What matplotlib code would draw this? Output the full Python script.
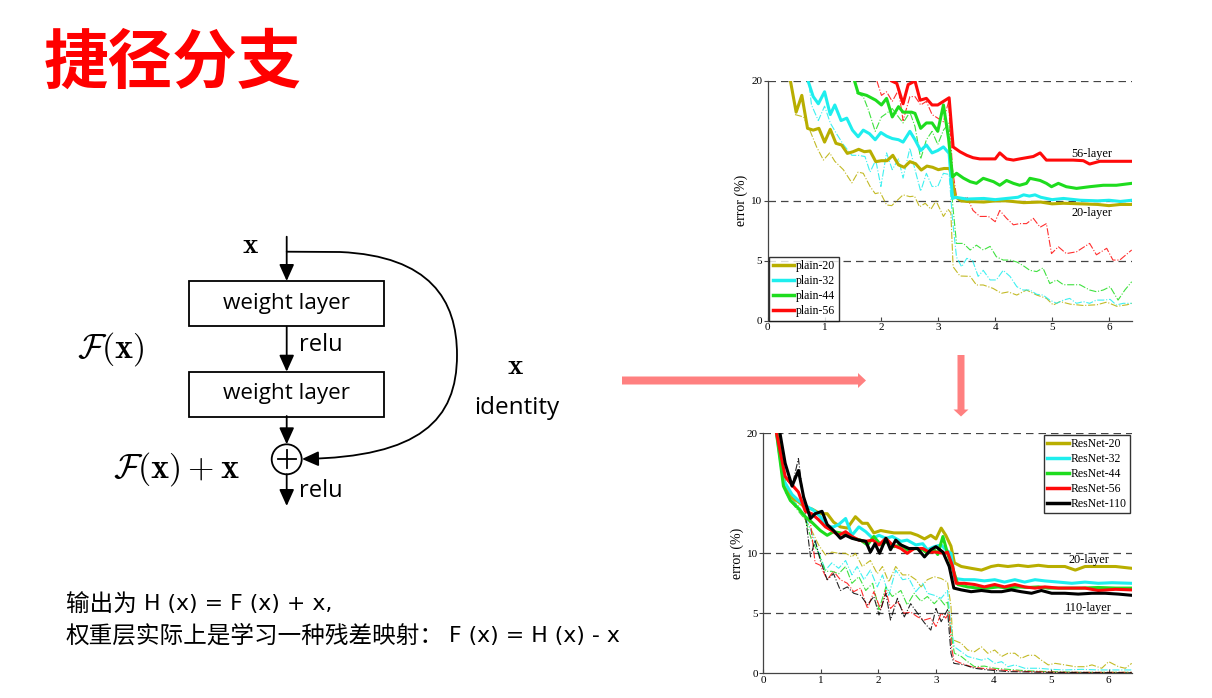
import matplotlib
matplotlib.use("Agg")
import matplotlib.pyplot as plt
from matplotlib.patches import Rectangle, Circle, FancyArrow, FancyArrowPatch
from matplotlib.path import Path
from matplotlib.lines import Line2D

plt.rcParams['mathtext.fontset'] = 'cm'

# ---------------- data: plain nets (top chart) ----------------
p20_x = [0.4,0.5,0.6,0.7,0.8,0.9,1.0,1.1,1.2,1.3,1.4,1.5,1.6,1.7,1.8,1.9,2.0,2.1,2.2,2.3,
         2.4,2.5,2.6,2.7,2.8,2.9,3.0,3.1,3.2,3.3,3.4,3.5,3.8,4.0,4.2,4.5,4.8,5.0,5.2,5.5,5.8,6.0,6.2,6.4]
p20_y = [20,17.4,18.8,16.05,15.9,16.05,14.9,15.97,14.8,14.66,13.96,14.1,14.3,14.1,14.16,13.27,13.35,13.35,13.8,13.0,
         12.8,13.27,13.1,12.57,12.9,12.8,12.6,12.7,12.7,10.35,10.0,9.95,9.9,10.0,10.0,9.85,9.9,9.75,9.8,9.75,9.7,9.6,9.7,9.7]
p20t_x = [0.48,0.63,0.74,0.86,0.98,1.09,1.18,1.33,1.48,1.59,1.68,1.8,1.89,1.98,2.09,2.18,2.38,2.5,2.58,2.67,
          2.77,2.87,2.96,3.09,3.17,3.22,3.26,3.38,3.56,3.67,3.79,3.96,4.11,4.23,4.38,4.55,4.73,4.9,5.02,5.14,
          5.32,5.55,5.79,5.96,6.14,6.32,6.4]
p20t_y = [17.2,17.0,15.9,14.5,13.4,14.0,13.3,12.6,11.5,12.4,12.3,11.2,10.6,10.7,9.66,9.6,10.5,10.35,10.4,9.5,
          9.8,9.3,10.0,8.7,9.3,9.0,4.5,3.73,3.7,2.98,2.98,2.7,2.29,2.4,2.14,2.56,2.14,1.87,1.31,1.6,
          1.38,1.27,1.33,1.55,1.2,1.33,1.45]

p32_x = [0.71,0.8,0.89,1.0,1.1,1.18,1.29,1.39,1.49,1.59,1.68,1.79,1.89,1.99,2.09,2.19,2.3,2.38,2.5,2.59,
         2.69,2.79,2.89,2.99,3.09,3.19,3.25,3.3,3.5,3.8,4.0,4.2,4.4,4.5,4.6,4.7,4.8,5.0,5.2,5.5,5.8,6.0,6.2,6.4]
p32_y = [20,18.7,18.1,19.1,17.2,18.0,16.7,16.9,15.9,15.35,15.9,15.6,15.1,15.7,15.4,15.2,15.1,14.9,15.8,15.1,
         14.2,14.66,14.0,14.2,14.5,13.96,10.2,10.3,10.15,10.2,10.1,10.2,10.3,10.5,10.4,10.5,10.3,10.1,10.2,10.05,10.0,10.05,9.95,10.05]
p32t_x = [0.73,0.77,0.89,1.0,1.1,1.21,1.33,1.48,1.59,1.71,1.8,1.9,1.99,2.09,2.19,2.3,2.38,2.5,2.59,2.69,2.79,
          2.89,2.99,3.09,3.19,3.25,3.32,3.41,3.5,3.6,3.7,3.79,3.91,4.02,4.14,4.26,4.38,4.49,4.61,4.73,4.84,
          4.96,5.08,5.2,5.31,5.43,5.55,5.66,5.78,5.9,6.02,6.13,6.25,6.4]
p32t_y = [19.6,18.0,16.7,17.9,16.5,15.6,14.7,13.8,13.8,13.7,12.4,13.4,11.2,14.0,12.6,13.5,11.9,14.4,12.6,10.8,12.3,
          11.2,11.2,12.3,12.2,8.4,5.3,4.5,5.2,5.06,3.7,4.2,3.4,3.4,4.2,3.7,2.84,2.56,2.56,2.2,2.14,
          1.72,1.45,1.72,1.86,1.45,1.59,1.45,1.72,1.72,1.78,1.31,1.45,1.45]

p44_x = [1.53,1.59,1.74,1.9,2.0,2.09,2.19,2.3,2.38,2.53,2.59,2.69,2.79,2.89,2.99,3.09,3.18,3.25,3.32,3.44,
         3.56,3.67,3.79,3.97,4.08,4.2,4.32,4.43,4.55,4.61,4.79,4.9,4.99,5.11,5.25,5.43,5.66,5.9,6.13,6.4]
p44_y = [19.95,19.0,18.8,18.4,18.0,18.55,17.0,17.86,17.4,17.4,17.3,16.05,16.5,16.5,15.8,18.0,15.2,12.0,12.3,11.9,
         11.6,11.46,11.88,11.6,11.3,11.7,11.46,11.3,11.46,11.88,11.7,11.46,11.18,11.46,11.18,11.04,11.18,11.3,11.3,11.46]
p44t_x = [1.56,1.68,1.77,1.89,2.0,2.09,2.19,2.3,2.38,2.5,2.59,2.69,2.79,2.89,2.99,3.09,3.19,3.25,3.32,3.44,
          3.56,3.67,3.79,3.91,4.02,4.14,4.26,4.38,4.49,4.61,4.73,4.84,4.96,5.08,5.2,5.31,5.49,5.66,5.78,5.9,
          6.02,6.16,6.28,6.4]
p44t_y = [19.0,18.7,17.6,15.8,17.0,17.3,17.7,17.0,16.5,17.4,16.2,13.5,15.1,15.8,14.7,15.9,16.5,9.8,6.45,6.45,
          5.9,6.3,5.9,6.2,5.34,5.06,5.06,4.9,4.6,4.2,4.1,4.4,3.1,3.4,3.0,3.0,3.0,2.56,2.42,2.56,
          2.84,1.72,2.56,3.25]

p56_x = [2.18,2.27,2.38,2.47,2.59,2.68,2.79,2.89,2.99,3.09,3.19,3.26,3.38,3.5,3.61,3.73,3.88,4.0,4.08,4.2,
         4.32,4.43,4.55,4.67,4.79,4.9,5.02,5.2,5.37,5.55,5.66,5.84,6.07,6.4]
p56_y = [20,19.8,18.1,19.7,20,18.4,18.55,18.0,18.0,18.3,18.6,14.5,14.1,13.8,13.6,13.5,13.5,13.5,14.0,13.5,
         13.4,13.5,13.6,13.7,14.0,13.4,13.4,13.4,13.4,13.35,13.07,13.3,13.3,13.3]
p56t_x = [1.92,2.0,2.09,2.19,2.3,2.38,2.5,2.59,2.69,2.79,2.89,2.99,3.09,3.18,3.25,3.32,3.41,3.5,3.61,3.73,
          3.88,4.0,4.08,4.2,4.32,4.43,4.55,4.67,4.79,4.9,4.99,5.11,5.25,5.43,5.66,5.78,5.96,6.07,6.19,6.4]
p56t_y = [20,18.8,19.1,18.3,19.25,16.7,18.7,18.7,18.0,18.3,17.2,16.9,16.6,18.3,12.6,10.35,9.93,10.35,9.2,8.7,
          8.7,8.26,9.2,8.54,8.0,8.1,8.1,8.54,7.8,8.1,5.6,6.17,5.6,5.75,6.45,5.5,6.04,5.06,5.06,5.9]

# ---------------- data: ResNets (bottom chart) ----------------
r20_x = [0.26,0.38,0.5,0.61,0.73,0.84,0.99,1.11,1.22,1.34,1.46,1.6,1.72,1.81,1.92,2.04,2.15,2.27,2.39,2.56,
         2.68,2.8,2.91,3.0,3.09,3.17,3.26,3.32,3.44,3.61,3.79,3.96,4.08,4.25,4.43,4.6,4.78,4.95,5.24,5.42,
         5.59,5.82,6.12,6.4]
r20_y = [20,15.6,14.6,14.3,13.8,13.7,13.3,13.3,12.6,12.2,12.1,13.05,12.5,12.5,11.7,11.9,11.8,11.7,11.7,11.7,
         11.5,11.2,11.5,11.2,12.1,11.5,10.6,9.2,8.9,8.75,8.6,8.9,9.0,8.9,9.0,8.9,9.0,8.9,8.9,8.6,
         8.9,8.9,8.9,8.75]
r20t_x = [0.38,0.5,0.61,0.73,0.84,0.96,1.08,1.19,1.31,1.43,1.54,1.6,1.72,1.86,1.98,2.07,2.18,2.3,2.42,2.53,
          2.65,2.74,2.85,2.97,3.09,3.2,3.26,3.29,3.44,3.55,3.67,3.79,3.9,4.02,4.14,4.25,4.37,4.48,4.6,4.72,
          4.83,4.95,5.07,5.24,5.42,5.59,5.71,5.88,6.0,6.17,6.29,6.4]
r20t_y = [15.3,14.6,13.75,12.8,11.9,10.7,9.86,10.1,10.0,10.0,9.7,10.0,8.9,9.4,8.3,8.9,7.6,8.9,8.2,8.2,
          7.8,7.2,7.8,8.05,7.9,7.6,5.6,2.8,2.5,1.94,1.8,2.2,1.67,1.94,1.4,1.67,1.67,1.25,1.5,1.5,
          1.1,0.7,0.83,0.7,0.55,0.55,0.7,0.42,0.97,0.55,0.42,0.83]

r32_x = [0.23,0.35,0.5,0.61,0.76,0.87,0.99,1.11,1.22,1.31,1.43,1.54,1.66,1.78,1.9,2.01,2.13,2.24,2.39,2.5,
         2.65,2.77,2.85,2.97,3.09,3.17,3.26,3.32,3.49,3.67,3.84,4.02,4.19,4.37,4.54,4.72,4.89,5.13,5.36,5.59,
         5.82,6.06,6.4]
r32_y = [20,16.1,14.9,14.4,13.9,13.6,13.05,12.2,12.2,12.4,12.9,11.5,12.2,11.8,11.25,11.5,11.25,11.4,11.0,11.1,
         10.7,10.8,10.3,10.55,10.7,10.3,10.0,7.9,7.8,7.8,7.7,7.8,7.6,7.8,7.6,7.8,7.7,7.6,7.5,7.6,
         7.5,7.55,7.5]
r32t_x = [0.38,0.5,0.61,0.73,0.84,0.96,1.08,1.19,1.31,1.43,1.54,1.63,1.75,1.86,1.98,2.07,2.18,2.3,2.42,2.53,
          2.65,2.77,2.85,2.97,3.09,3.2,3.26,3.32,3.44,3.55,3.67,3.79,3.9,4.02,4.14,4.25,4.37,4.54,4.78,5.01,
          5.24,5.53,5.82,6.12,6.4]
r32t_y = [15.3,14.4,14.0,13.05,11.7,10.1,8.6,9.2,8.75,9.4,8.2,8.9,7.8,8.6,7.2,8.2,6.5,8.6,7.8,7.9,
          6.8,7.5,6.67,6.5,6.25,6.9,3.9,2.2,1.8,1.4,1.25,1.1,1.25,0.83,0.97,0.55,0.7,0.42,0.42,0.33,
          0.28,0.33,0.28,0.28,0.28]

r44_x = [0.23,0.35,0.47,0.61,0.73,0.84,0.99,1.11,1.22,1.34,1.46,1.57,1.69,1.81,1.92,2.04,2.15,2.27,2.39,2.5,
         2.65,2.77,2.85,2.97,3.03,3.12,3.2,3.29,3.38,3.55,3.73,3.9,4.08,4.25,4.43,4.6,4.78,4.95,5.24,5.53,
         5.82,6.12,6.4]
r44_y = [20,15.6,14.4,13.75,13.05,12.6,11.9,11.5,11.8,11.7,11.5,11.25,11.1,10.7,11.4,10.7,11.0,10.55,10.7,10.3,
         10.4,10.3,10.0,10.3,9.9,11.4,10.0,8.75,7.4,7.2,7.1,7.1,7.2,7.1,7.2,7.15,7.2,7.1,7.1,7.1,
         7.15,7.1,7.1]
r44t_x = [0.38,0.5,0.61,0.73,0.84,0.96,1.08,1.19,1.31,1.43,1.54,1.66,1.78,1.9,2.01,2.13,2.24,2.39,2.5,2.62,
          2.74,2.85,2.97,3.06,3.15,3.2,3.26,3.32,3.44,3.55,3.67,3.84,4.02,4.25,4.54,4.95,5.53,6.4]
r44t_y = [15.1,14.2,13.5,12.8,11.1,10.0,8.5,8.5,8.3,8.9,7.5,8.05,6.9,7.5,5.3,7.2,6.4,6.9,5.7,6.67,
          6.0,6.4,5.8,6.25,5.7,6.0,3.3,1.67,1.4,0.97,0.55,0.6,0.42,0.33,0.22,0.14,0.08,0.08]

r56_x = [0.23,0.38,0.5,0.61,0.73,0.84,0.96,1.08,1.19,1.31,1.43,1.54,1.66,1.78,1.9,2.01,2.13,2.24,2.39,2.5,
         2.62,2.77,2.88,3.0,3.15,3.2,3.29,3.35,3.49,3.67,3.84,4.02,4.19,4.37,4.54,4.72,4.89,5.13,5.36,5.59,
         5.82,6.12,6.4]
r56_y = [20,16.4,15.7,15.1,13.5,13.3,12.8,12.2,11.9,11.5,11.8,11.4,11.1,11.0,11.1,10.7,11.25,10.7,10.4,10.0,
         10.4,10.4,10.1,10.1,10.0,10.1,8.9,7.5,7.5,7.4,7.2,7.4,7.2,7.4,7.2,7.1,7.2,7.1,7.1,7.1,
         6.9,7.0,6.95]
r56t_x = [0.38,0.5,0.61,0.73,0.82,0.9,0.99,1.11,1.22,1.34,1.46,1.57,1.69,1.81,1.92,2.04,2.13,2.21,2.33,2.45,
          2.56,2.68,2.8,2.91,3.0,3.09,3.17,3.23,3.27,3.31,3.44,3.61,3.79,4.02,4.25,4.66,5.24,6.4]
r56t_y = [15.3,14.2,13.75,13.05,12.5,9.2,9.0,7.8,8.5,7.8,7.5,6.8,7.1,5.4,6.8,5.3,6.9,5.4,6.0,5.0,
          5.1,4.7,4.44,4.6,3.9,5.0,4.6,5.1,2.2,1.1,0.83,0.55,0.42,0.33,0.22,0.14,0.08,0.08]

r110_x = [0.29,0.38,0.5,0.61,0.7,0.82,0.9,1.02,1.11,1.22,1.34,1.43,1.54,1.66,1.78,1.86,1.94,2.02,2.13,2.21,
          2.3,2.39,2.53,2.68,2.8,2.91,3.0,3.12,3.23,3.31,3.44,3.61,3.79,3.96,4.14,4.31,4.48,4.66,4.83,5.01,
          5.24,5.47,5.71,5.94,6.17,6.4]
r110_y = [20,17.5,15.6,16.9,14.7,12.9,13.3,13.5,12.4,11.9,11.25,11.5,11.25,11.1,11.0,10.1,10.8,10.0,11.25,10.3,
          11.1,10.7,10.4,10.4,9.7,10.3,10.55,10.1,8.9,7.1,6.95,6.8,6.9,6.8,6.8,6.95,6.8,6.67,6.9,6.67,
          6.67,6.6,6.67,6.67,6.6,6.5]
r110t_x = [0.41,0.5,0.61,0.7,0.82,0.9,0.99,1.11,1.22,1.34,1.46,1.57,1.69,1.81,1.92,2.01,2.13,2.21,2.33,2.45,
           2.56,2.68,2.8,2.91,3.0,3.09,3.2,3.26,3.31,3.49,3.67,3.9,4.25,4.95,6.4]
r110t_y = [16.1,15.6,17.9,14.4,9.7,11.1,9.4,7.8,8.3,6.9,7.2,6.67,6.5,5.7,6.4,4.86,6.67,4.44,6.25,4.7,
           5.8,5.0,4.2,3.6,5.4,4.3,5.3,1.67,0.83,0.7,0.42,0.28,0.14,0.08,0.05]

c_olive, c_cyan, c_green, c_red, c_black = '#B8AE00', '#1EEEEE', '#1EDC1E', '#FF0A0A', '#000000'

plain_series = [("plain-20", c_olive, p20_x, p20_y, p20t_x, p20t_y),
                ("plain-32", c_cyan, p32_x, p32_y, p32t_x, p32t_y),
                ("plain-44", c_green, p44_x, p44_y, p44t_x, p44t_y),
                ("plain-56", c_red, p56_x, p56_y, p56t_x, p56t_y)]
res_series = [("ResNet-20", c_olive, r20_x, r20_y, r20t_x, r20t_y),
              ("ResNet-32", c_cyan, r32_x, r32_y, r32t_x, r32t_y),
              ("ResNet-44", c_green, r44_x, r44_y, r44t_x, r44t_y),
              ("ResNet-56", c_red, r56_x, r56_y, r56t_x, r56t_y),
              ("ResNet-110", c_black, r110_x, r110_y, r110t_x, r110t_y)]

y_ticks = [0, 5, 10, 20]
x_ticks = [0, 1, 2, 3, 4, 5, 6]
grid_levels = [5, 10, 20]

fig = plt.figure(figsize=(12.12, 6.98), dpi=100)

# ---------------- overlay in pixel coordinates ----------------
ov = fig.add_axes([0, 0, 1, 1])
ov.set_xlim(0, 1212)
ov.set_ylim(698, 0)
ov.axis('off')

cjk = ['Noto Sans CJK SC', 'DejaVu Sans']
ov.text(44, 64, "捷径分支", fontsize=46.5, fontweight='bold', color='#FF0000',
        family=cjk, va='center', ha='left')

# explanation text: chinese part and formula part set separately
ov.text(66, 604, "输出为", fontsize=17, family=cjk, va='center', ha='left')
ov.text(144, 604, "H (x) = F (x) + x,", fontsize=15.8, family='DejaVu Sans', va='center', ha='left')
ov.text(66, 636, "权重层实际上是学习一种残差映射：", fontsize=17, family=cjk, va='center', ha='left')
ov.text(449, 636, "F (x) = H (x) - x", fontsize=15.8, family='DejaVu Sans', va='center', ha='left')

# residual block diagram
cx = 286.7
lab_font = 'Open Sans'
aprops = dict(arrowstyle='-|>,head_length=1.0,head_width=0.45', mutation_scale=10,
              color='black', lw=1.3, shrinkA=0, shrinkB=0)
for y0, y1 in [(236.7, 281), (326.7, 371.7), (416, 444.3), (474.3, 506)]:
    ov.annotate('', xy=(cx, y1), xytext=(cx, y0), arrowprops=aprops)
for top in [281, 371.7]:
    ov.add_patch(Rectangle((189, top), 195, 45, fill=False, ec='black', lw=1.3))
    ov.text(cx, top + 22, "weight layer", fontsize=16.2, family=lab_font, ha='center', va='center')
ov.add_patch(Circle((cx, 459.3), 15, fill=False, ec='black', lw=1.3))
ov.plot([cx - 9, cx + 9], [459.3, 459.3], color='black', lw=1.3)
ov.plot([cx, cx], [450.3, 468.3], color='black', lw=1.3)
ov.text(299, 345, "relu", fontsize=17, family=lab_font, ha='left', va='center')
ov.text(299, 491, "relu", fontsize=17, family=lab_font, ha='left', va='center')

skip = Path([(cx, 251.7), (340, 252), (430, 256), (457, 300), (457, 355),
             (457, 420), (420, 457), (302, 459)],
            [Path.MOVETO, Path.LINETO, Path.CURVE4, Path.CURVE4, Path.CURVE4,
             Path.CURVE4, Path.CURVE4, Path.CURVE4])
ov.add_patch(FancyArrowPatch(path=skip, arrowstyle='-|>,head_length=1.0,head_width=0.45',
                             mutation_scale=10, color='black', lw=1.3))

ov.text(250, 245, r"$\mathbf{x}$", fontsize=21, ha='center', va='center')
ov.text(111, 349, r"$\mathcal{F}(\mathbf{x})$", fontsize=24.5, ha='center', va='center')
ov.text(176, 469, r"$\mathcal{F}(\mathbf{x})+\mathbf{x}$", fontsize=24.5, ha='center', va='center')
ov.text(515, 366, r"$\mathbf{x}$", fontsize=21, ha='center', va='center')
ov.text(517, 408, "identity", fontsize=17.5, family=lab_font, ha='center', va='center')

# pink connector arrows
pink = '#FF8080'
ov.add_patch(FancyArrow(622, 380.5, 244, 0, width=8, head_width=15, head_length=8,
                        length_includes_head=True, color=pink, lw=0))
ov.add_patch(FancyArrow(961, 355, 0, 61.5, width=7, head_width=15, head_length=7,
                        length_includes_head=True, color=pink, lw=0))

# ---------------- training curves ----------------
serif = 'Liberation Serif'


def draw_curves(ax, series, legend_loc, legend_anchor, notes):
    for name, col, xs, ys, xt, yt in series:
        ax.plot(xt, yt, color=col, lw=0.8, linestyle='-.', alpha=0.85)
    for name, col, xs, ys, xt, yt in series:
        ax.plot(xs, ys, color=col, lw=2.2)
    for g in grid_levels:
        ax.axhline(g, color='#444444', lw=0.9, linestyle=(0, (6, 4)), zorder=0)
    ax.set_xlim(0, 6.4)
    ax.set_ylim(0, 20)
    ax.set_yticks(y_ticks)
    ax.set_xticks(x_ticks)
    for lab in ax.get_xticklabels() + ax.get_yticklabels():
        lab.set_family(serif)
    ax.tick_params(axis='y', direction='out', length=3, labelsize=8, pad=1, color='#444444')
    ax.tick_params(axis='x', direction='in', length=3, labelsize=8, pad=2, color='#444444')
    for s in ['top', 'right']:
        ax.spines[s].set_visible(False)
    for s in ['left', 'bottom']:
        ax.spines[s].set_color('#444444')
        ax.spines[s].set_linewidth(0.9)
    ax.set_ylabel("error (%)", family=serif, fontsize=10, labelpad=2)
    handles = [Line2D([], [], color=col, lw=2.5) for name, col, *_ in series]
    leg = ax.legend(handles, [s[0] for s in series], loc=legend_loc, bbox_to_anchor=legend_anchor,
                    prop={'family': serif, 'size': 8.5}, frameon=True, fancybox=False,
                    handlelength=1.8, handletextpad=0.15, labelspacing=0.25,
                    borderpad=0.3, borderaxespad=0)
    leg.get_frame().set_edgecolor('black')
    leg.get_frame().set_linewidth(1.0)
    for txt, xv, yv in notes:
        ax.text(xv, yv, txt, family=serif, fontsize=8.8, ha='center', va='center')


ax_top = fig.add_axes([767.7 / 1212, 1 - 320.7 / 698, 364 / 1212, 239.7 / 698])
draw_curves(ax_top, plain_series, 'lower left', (0.004, 0.0),
            [("56-layer", 5.7, 13.95), ("20-layer", 5.7, 8.98)])

ax_bot = fig.add_axes([763.3 / 1212, 1 - 673.3 / 698, 368.4 / 1212, 240 / 698])
draw_curves(ax_bot, res_series, 'upper right', (0.995, 0.995),
            [("20-layer", 5.65, 9.45), ("110-layer", 5.65, 5.47)])

fig.savefig("out.png", dpi=100)
